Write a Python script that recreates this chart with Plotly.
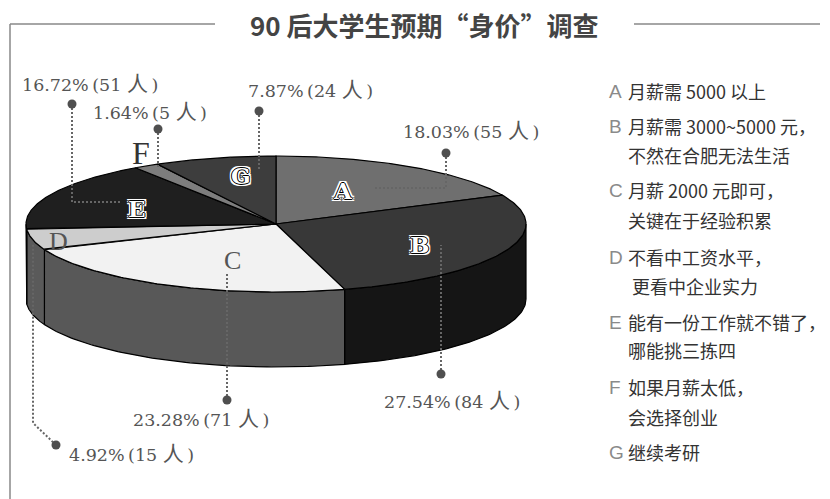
import numpy as np
import plotly.graph_objects as go

categories = ["A", "B", "C", "D", "E", "F", "G"]
people = [55, 84, 71, 15, 51, 5, 24]
percents = [18.03, 27.54, 23.28, 4.92, 16.72, 1.64, 7.87]
legend_lines = [
    ["月薪需 5000 以上"],
    ["月薪需 3000~5000 元，", "不然在合肥无法生活"],
    ["月薪 2000 元即可，", "关键在于经验积累"],
    ["不看中工资水平，", " 更看中企业实力"],
    ["能有一份工作就不错了，", "哪能挑三拣四"],
    ["如果月薪太低，", "会选择创业"],
    ["继续考研"],
]
title_text = "90 后大学生预期“身价”调查"

# ---- styling / layout ----
CX, CY, RX, RY, DEPTH = 276, 224, 250, 68, 75
top_colors = ["#6f6f6f", "#383838", "#f2f2f2", "#cdcdcd", "#1f1f1f", "#7d7d7d", "#3d3d3d"]
side_colors = ["#555555", "#151515", "#585858", "#5a5a5a", "#5a5a5a", "#555555", "#555555"]
SERIF = "DejaVu Serif, Noto Sans CJK SC"
SANS = "Noto Sans CJK SC, Noto Sans"
GRAY = "#555555"

label_pos = {
    "A": (403, 131), "B": (384, 401), "C": (133, 419), "D": (69, 454),
    "E": (22, 84), "F": (93, 112), "G": (248, 90),
}
letter_pos = {
    "A": (343, 190, True), "B": (419, 244, True), "C": (232, 260, False), "D": (58, 241, False),
    "E": (137, 208, True), "F": (141, 153, False), "G": (241, 175, True),
}
letter_size = {"C": 26, "D": 26, "F": 32}
leaders = {
    "A": [(446, 153), (446, 188), (373, 188)],
    "B": [(441, 374), (441, 245)],
    "C": [(227, 400), (227, 272)],
    "D": [(56, 445), (33, 423), (33, 243)],
    "E": [(72, 104), (72, 202), (122, 202)],
    "F": [(158, 129), (158, 167)],
    "G": [(259, 111), (259, 170)],
}
legend_y = [[91], [126, 155], [190, 220], [257, 286], [322, 350], [387, 417], [452]]

fig = go.Figure()

total = sum(people)
fractions = np.cumsum([0] + people) / total * 2 * np.pi


def px(t):
    return CX + RX * np.sin(t)


def py(t):
    return CY - RY * np.cos(t)


# sides (only the front half, 90deg..270deg clockwise from the top, is visible)
for i in range(len(people)):
    a0 = max(fractions[i], np.pi / 2)
    a1 = min(fractions[i + 1], 3 * np.pi / 2)
    if a1 <= a0:
        continue
    t = np.linspace(a0, a1, 80)
    xs = np.concatenate([px(t), px(t[::-1])])
    ys = np.concatenate([py(t), py(t[::-1]) + DEPTH])
    fig.add_trace(go.Scatter(
        x=np.append(xs, xs[0]), y=np.append(ys, ys[0]), mode="lines", fill="toself",
        fillcolor=side_colors[i], line=dict(color="#000000", width=1.2),
        hoverinfo="skip", showlegend=False,
    ))

# top face
for i in range(len(people)):
    t = np.linspace(fractions[i], fractions[i + 1], 120)
    xs = np.concatenate([[CX], px(t), [CX]])
    ys = np.concatenate([[CY], py(t), [CY]])
    fig.add_trace(go.Scatter(
        x=xs, y=ys, mode="lines", fill="toself",
        fillcolor=top_colors[i], line=dict(color="#000000", width=1.2),
        hoverinfo="skip", showlegend=False, name=categories[i],
    ))

# leaders
for c in categories:
    pts = leaders[c]
    fig.add_trace(go.Scatter(
        x=[p[0] for p in pts], y=[p[1] for p in pts], mode="lines",
        line=dict(color="#666666", width=2, dash="2px 2px"),
        hoverinfo="skip", showlegend=False,
    ))
    fig.add_trace(go.Scatter(
        x=[pts[0][0]], y=[pts[0][1]], mode="markers",
        marker=dict(color="#4f4f4f", size=9), hoverinfo="skip", showlegend=False,
    ))

annotations = []


def text(x, y, s, size, color, family=SANS, anchor="left", shadow=None, weight="normal"):
    font = dict(size=size, color=color, family=family, weight=weight)
    if shadow:
        font["shadow"] = shadow
    annotations.append(dict(
        x=x, y=y, xref="x", yref="y", text=s, showarrow=False,
        xanchor=anchor, yanchor="middle", font=font, align=anchor,
        borderpad=0, borderwidth=0,
    ))


# title
text(424, 24, title_text, 26, "#444444", anchor="center", weight="bold")

# percent labels
for i, c in enumerate(categories):
    x, y = label_pos[c]
    label = (f'{percents[i]:.2f}%\u2009({people[i]} '
             '<span style="font-size:21px">人</span>\u2009)')
    text(x, y, label, 17.5, GRAY, family=SERIF)

# letters on the pie
ring = ("1px 0 #000,-1px 0 #000,0 1px #000,0 -1px #000,"
        "2px 0 #fff,-2px 0 #fff,0 2px #fff,0 -2px #fff,"
        "2px 2px #fff,-2px 2px #fff,2px -2px #fff,-2px -2px #fff")
for c in categories:
    x, y, outlined = letter_pos[c]
    if outlined:
        text(x, y, c, 23, "#ffffff", family="DejaVu Serif", anchor="center", shadow=ring, weight="bold")
    else:
        col = "#555555" if c in "CD" else "#333333"
        text(x, y, c, letter_size[c], col, family="Liberation Serif", anchor="center")

# legend
for i, c in enumerate(categories):
    text(609, legend_y[i][0], c, 19, "#8a8a8a", family="Liberation Sans", anchor="left")
    for j, line in enumerate(legend_lines[i]):
        text(628, legend_y[i][j], line, 18, "#333333")

frame = [
    dict(type="line", x0=10, x1=215, y0=24, y1=24),
    dict(type="line", x0=10, x1=10, y0=24, y1=499),
    dict(type="line", x0=634, x1=820, y0=24, y1=24),
]
for s in frame:
    s.update(xref="x", yref="y", line=dict(color="#888888", width=1.5))

fig.update_layout(
    width=830, height=499, margin=dict(l=0, r=0, t=0, b=0),
    paper_bgcolor="#ffffff", plot_bgcolor="#ffffff",
    xaxis=dict(range=[0, 830], visible=False, fixedrange=True),
    yaxis=dict(range=[499, 0], visible=False, fixedrange=True),
    annotations=annotations, shapes=frame, showlegend=False,
)
fig.write_html("out.html", config=dict(displayModeBar=False),
               post_script="document.body.style.margin='0';")
